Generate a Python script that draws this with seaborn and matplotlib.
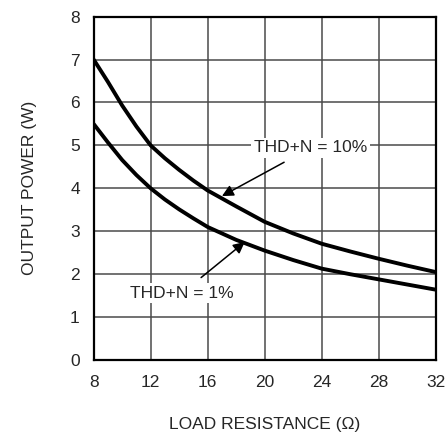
import matplotlib
matplotlib.use("Agg")
import matplotlib.pyplot as plt
import seaborn as sns
import pandas as pd

# load resistance (ohm)
r_load = [8, 9, 10, 11, 12, 13, 14, 15, 16, 18, 20, 22, 24, 26, 28, 30, 32]
# output power (W)
p_10pct = [7.0, 6.48, 5.93, 5.44, 5.0, 4.70, 4.43, 4.18, 3.95, 3.58, 3.22, 2.95, 2.71, 2.53, 2.36, 2.20, 2.05]
p_1pct = [5.5, 5.07, 4.66, 4.31, 4.0, 3.74, 3.51, 3.3, 3.1, 2.8, 2.55, 2.33, 2.13, 2.0, 1.88, 1.76, 1.64]

df = pd.DataFrame({"R": r_load * 2,
                   "P": p_10pct + p_1pct,
                   "thd": ["10%"] * len(r_load) + ["1%"] * len(r_load)})

sns.set_style("white")
plt.rcParams["font.family"] = ["Liberation Sans", "DejaVu Sans"]

fig, ax = plt.subplots(figsize=(4.46, 4.37), dpi=100)
fig.subplots_adjust(left=0.21, right=0.977, top=0.962, bottom=0.176)

sns.lineplot(data=df, x="R", y="P", units="thd", estimator=None,
             color="black", linewidth=2.8, ax=ax, zorder=3)

ax.set_xlim(8, 32)
ax.set_ylim(0, 8)
ax.set_xticks(range(8, 33, 4))
ax.set_yticks(range(0, 9))
ax.grid(True, color="#4a4a4a", linewidth=1.1)
for s in ax.spines.values():
    s.set_color("black")
    s.set_linewidth(1.6)
ax.tick_params(length=0, labelsize=12.5)
ax.tick_params(axis="x", pad=11)
ax.tick_params(axis="y", pad=10)
ax.set_xlabel("LOAD RESISTANCE (Ω)", fontsize=12.5, labelpad=19)
ax.set_ylabel("OUTPUT POWER (W)", fontsize=12.5, labelpad=24)

box = dict(facecolor="white", edgecolor="none", pad=2)
ax.annotate("THD+N = 10%", xy=(17.0, 3.82), xytext=(23.2, 4.94),
            fontsize=12.5, ha="center", va="center", bbox=box, zorder=5,
            arrowprops=dict(arrowstyle="-|>", color="black", lw=1.1,
                            shrinkA=6, shrinkB=0, mutation_scale=17))
ax.annotate("THD+N = 1%", xy=(18.6, 2.75), xytext=(14.2, 1.56),
            fontsize=12.5, ha="center", va="center", bbox=box, zorder=5,
            arrowprops=dict(arrowstyle="-|>", color="black", lw=1.1,
                            shrinkA=6, shrinkB=0, mutation_scale=17))

fig.savefig("out.png", dpi=100)
